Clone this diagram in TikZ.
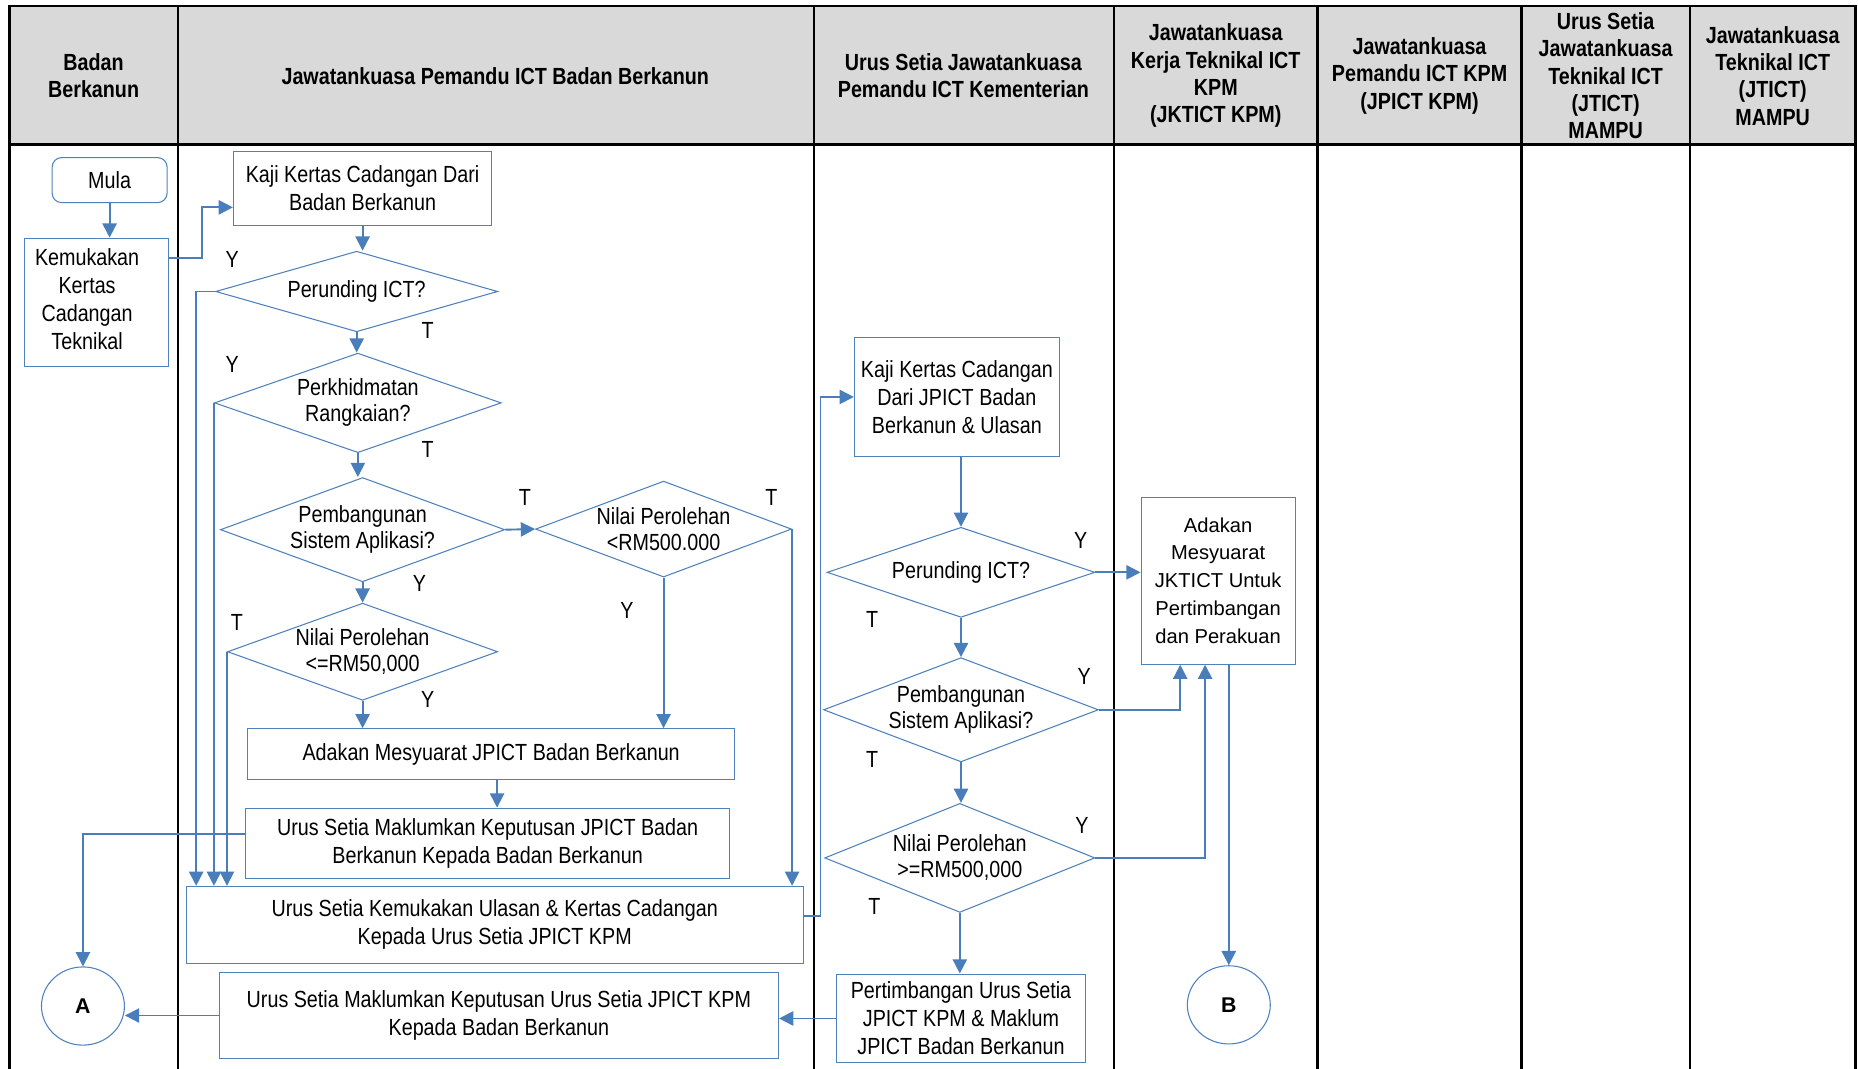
\documentclass[tikz,border=0pt]{standalone}
\usepackage{fontspec}
\setmainfont{Liberation Sans}
\newfontfamily\narrowfont[FakeStretch=0.845]{Liberation Sans}
\usetikzlibrary{shapes.geometric,arrows.meta}
\definecolor{lineblue}{HTML}{4A7EBB}
\definecolor{boxblue}{HTML}{4F81BD}
\definecolor{headgray}{HTML}{D9D9D9}

\begin{document}
\begin{tikzpicture}[x=1pt,y=-1pt,
  grid/.style={line width=2pt,black},
  txt/.style={font=\narrowfont\fontsize{19.7}{23.5}\selectfont,align=center},
  head/.style={font=\narrowfont\bfseries\fontsize{19.7}{23}\selectfont,align=center},
  box/.style={txt,draw=boxblue,line width=0.9pt,inner sep=0pt},
  dia/.style={diamond,draw=boxblue,line width=0.9pt,inner sep=0pt,
    font=\narrowfont\fontsize{19.7}{22}\selectfont,align=center},
  circ/.style={ellipse,draw=boxblue,line width=0.9pt,inner sep=0pt,
    font=\bfseries\fontsize{18}{20}\selectfont},
  arr/.style={lineblue,line width=1.6pt,-{Triangle[length=12pt,width=12pt]}},
  yt/.style={font=\narrowfont\fontsize{19.7}{23.5}\selectfont,inner sep=0pt}
]
\useasboundingbox (0,0) rectangle (1568,902);

% swimlane grid
\fill[headgray] (8,5) rectangle (1566,122);
\draw[grid] (8,902) -- (8,5) -- (1566,5) -- (1566,902);
\draw[grid] (8,122) -- (1566,122);
\foreach \x in {150,687,940,1112,1284,1426} \draw[grid] (\x,5) -- (\x,902);

% lane headings
\node[head] (h1) at (79,64) {Badan\\Berkanun};
\node[head] (h2) at (418,64) {Jawatankuasa Pemandu ICT Badan Berkanun};
\node[head] (h3) at (813,64) {Urus Setia Jawatankuasa\\Pemandu ICT Kementerian};
\node[head] (h4) at (1026,64) {Jawatankuasa\\Kerja Teknikal ICT\\KPM\\(JKTICT KPM)};
\node[head] (h5) at (1198,64) {Jawatankuasa\\Pemandu ICT KPM\\(JPICT KPM)};
\node[head] (h6) at (1355,64) {Urus Setia\\Jawatankuasa\\Teknikal ICT\\(JTICT)\\MAMPU};
\node[head] (h7) at (1496,64) {Jawatankuasa\\Teknikal ICT\\(JTICT)\\MAMPU};

% Badan Berkanun lane
\node[box,rounded corners=8pt,minimum width=97pt,minimum height=38pt] (mula) at (92.5,152) {Mula};
\node[box,minimum width=121pt,minimum height=108pt] (kem) at (81.5,255)
  {\hspace*{-16pt}\begin{tabular}{@{}c@{}}Kemukakan\\Kertas\\Cadangan\\Teknikal\end{tabular}};
\node[circ,minimum width=70pt,minimum height=66pt] (a) at (70,849) {A};

% JPICT Badan Berkanun lane
\node[box,minimum width=218pt,minimum height=62pt] (kaji1) at (306,159) {Kaji Kertas Cadangan Dari\\Badan Berkanun};
\node[dia,shape aspect=3.5,minimum width=238pt,minimum height=68pt] (d1) at (301,246) {Perunding ICT?};
\node[dia,shape aspect=2.88,minimum width=242pt,minimum height=84pt] (d2) at (302,340) {Perkhidmatan\\Rangkaian?};
\node[dia,shape aspect=2.73,minimum width=240pt,minimum height=88pt] (d3) at (306,447) {Pembangunan\\Sistem Aplikasi?};
\node[dia,shape aspect=2.67,minimum width=216pt,minimum height=81pt] (d4) at (560,446.5) {Nilai Perolehan\\<RM500.000};
\node[dia,shape aspect=2.78,minimum width=228pt,minimum height=82pt] (d5) at (306,550) {Nilai Perolehan\\<=RM50,000};
\node[box,minimum width=411pt,minimum height=43pt] (adk) at (414.5,636.5) {Adakan Mesyuarat JPICT Badan Berkanun};
\node[box,minimum width=409pt,minimum height=59pt] (usm) at (411.5,711.5) {Urus Setia Maklumkan Keputusan JPICT Badan\\Berkanun Kepada Badan Berkanun};
\node[box,minimum width=521pt,minimum height=65pt] (usk) at (417.5,780.5) {Urus Setia Kemukakan Ulasan \& Kertas Cadangan\\Kepada Urus Setia JPICT KPM};
\node[box,minimum width=472pt,minimum height=72pt] (ujk) at (421,857) {Urus Setia Maklumkan Keputusan Urus Setia JPICT KPM\\Kepada Badan Berkanun};

% Urus Setia Kementerian lane
\node[box,minimum width=173pt,minimum height=100pt] (kaji2) at (807.5,335) {Kaji Kertas Cadangan\\Dari JPICT Badan\\Berkanun \& Ulasan};
\node[dia,shape aspect=2.97,minimum width=226pt,minimum height=76pt] (d6) at (811,483) {Perunding ICT?};
\node[dia,shape aspect=2.64,minimum width=232pt,minimum height=88pt] (d7) at (811,599) {Pembangunan\\Sistem Aplikasi?};
\node[dia,shape aspect=2.48,minimum width=228pt,minimum height=92pt] (d8) at (810,724) {Nilai Perolehan\\>=RM500,000};
\node[box,minimum width=210pt,minimum height=75pt] (pt) at (811,859.5) {Pertimbangan Urus Setia\\JPICT KPM \& Maklum\\JPICT Badan Berkanun};

% JKTICT KPM lane
\node[box,font=\fontsize{17}{23.5}\selectfont,minimum width=130pt,minimum height=141pt] (jk) at (1028,490) {Adakan\\Mesyuarat\\JKTICT Untuk\\Pertimbangan\\dan Perakuan};
\node[circ,minimum width=70pt,minimum height=66pt] (b) at (1037,848) {B};

% connectors
\draw[arr] (mula.south) -- (mula.south |- kem.north);
\draw[arr] ([yshift=37pt]kem.east) -- ++(28,0) |- ([yshift=-16pt]kaji1.west);
\draw[arr] (kaji1.south) -- (kaji1.south |- d1.north);
\draw[arr] (d1.south) -- (d1.south |- d2.north);
\draw[arr] (d2.south) -- (d2.south |- d3.north);
\draw[arr] (d3.south) -- (d3.south |- d5.north);
\draw[arr] (d3.east) -- (d4.west);
\draw[arr] (d5.south) -- (d5.south |- adk.north);
\draw[arr] (d4.south) -- (d4.south |- adk.north);
\draw[arr] (d4.east) -- (d4.east |- usk.north);
\draw[arr] ([xshift=5pt]adk.south) -- ([xshift=5pt]adk.south |- usm.north);
\draw[arr] (d1.west) -- ++(-16,0) coordinate (c1) -- (c1 |- usk.north);
\draw[arr] (d2.west) -- (d2.west |- usk.north);
\draw[arr] (d5.west) -- (d5.west |- usk.north);
\draw[arr] ([yshift=7.5pt]usm.west) -| (a.north);
\draw[arr] ([yshift=7.5pt]usk.east) -- ++(14,0) |- (kaji2.west);
\draw[arr] (d6.north |- kaji2.south) -- (d6.north);
\draw[arr] (d6.south) -- (d6.south |- d7.north);
\draw[arr] (d7.south) -- (d7.south |- d8.north);
\draw[arr] (d8.south) -- (d8.south |- pt.north);
\draw[arr] (d6.east) -- (d6.east -| jk.west);
\draw[arr] (d7.east) -| ([xshift=-32pt]jk.south);
\draw[arr] (d8.east) -| ([xshift=-11pt]jk.south);
\draw[arr] (b.north |- jk.south) -- (b.north);
\draw[arr] (pt.west) -- (pt.west -| ujk.east);
\draw[arr] (ujk.west) -- (ujk.west -| a.east);

% branch labels
\node[yt] (l1) at (196,219) {Y};
\node[yt] (l2) at (361,279) {T};
\node[yt] (l3) at (196,308) {Y};
\node[yt] (l4) at (361,379) {T};
\node[yt] (l5) at (443,420) {T};
\node[yt] (l6) at (354,492) {Y};
\node[yt] (l7) at (651,420) {T};
\node[yt] (l8) at (529,515) {Y};
\node[yt] (l9) at (200,525) {T};
\node[yt] (l10) at (361,590) {Y};
\node[yt] (l11) at (912,456) {Y};
\node[yt] (l12) at (736,523) {T};
\node[yt] (l13) at (915,571) {Y};
\node[yt] (l14) at (736,641) {T};
\node[yt] (l15) at (913,697) {Y};
\node[yt] (l16) at (738,765) {T};
\end{tikzpicture}
\end{document}
